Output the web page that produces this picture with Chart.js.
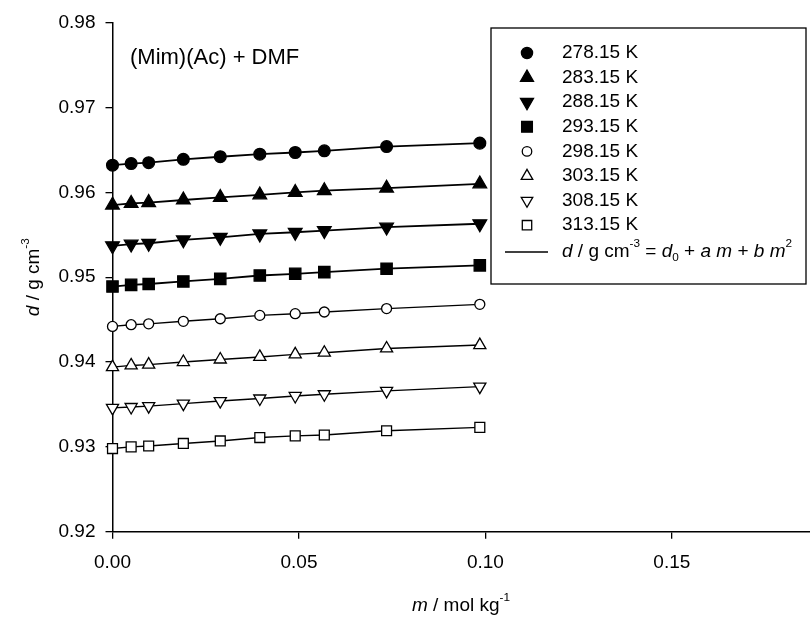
<!DOCTYPE html>
<html>
<head>
<meta charset="utf-8">
<script src="https://cdn.jsdelivr.net/npm/chart.js@4.4.0/dist/chart.umd.min.js"></script>
<style>
html, body { margin: 0; padding: 0; background: #fff; overflow: hidden; }
</style>
</head>
<body>
<canvas id="dens" width="821" height="619"></canvas>
<script>
// molality m / mol kg-1
var molality = [0, 0.0050, 0.0097, 0.0190, 0.0289, 0.0395, 0.0490, 0.0568, 0.0735, 0.0985];

var temps = ['278.15 K', '283.15 K', '288.15 K', '293.15 K', '298.15 K', '303.15 K', '308.15 K', '313.15 K'];

// density d / g cm-3
var d278 = [0.9632, 0.9634, 0.9635, 0.9639, 0.9642, 0.9645, 0.9647, 0.9649, 0.9654, 0.9658];
var d283 = [0.9585, 0.9587, 0.9588, 0.9591, 0.9594, 0.9597, 0.9600, 0.9602, 0.9605, 0.9610];
var d288 = [0.9537, 0.9539, 0.9540, 0.9544, 0.9547, 0.9551, 0.9553, 0.9555, 0.9559, 0.9563];
var d293 = [0.9489, 0.9491, 0.9492, 0.9495, 0.9498, 0.9502, 0.9504, 0.9506, 0.9510, 0.9514];
var d298 = [0.9442, 0.9444, 0.9445, 0.9448, 0.9451, 0.9455, 0.9457, 0.9459, 0.9463, 0.9468];
var d303 = [0.9394, 0.9396, 0.9397, 0.9400, 0.9403, 0.9406, 0.9409, 0.9411, 0.9416, 0.9420];
var d308 = [0.9346, 0.9347, 0.9348, 0.9351, 0.9354, 0.9357, 0.9360, 0.9362, 0.9366, 0.9371];
var d313 = [0.9298, 0.9300, 0.9301, 0.9304, 0.9307, 0.9311, 0.9313, 0.9314, 0.9319, 0.9323];

var xTicks = [0, 0.05, 0.10, 0.15];
var yTicks = [0.92, 0.93, 0.94, 0.95, 0.96, 0.97, 0.98];

var FONT = '"Liberation Sans", Arial, sans-serif';

function pts(vals) {
    return vals.map(function (v, i) { return { x: molality[i], y: v }; });
}

function series(label, vals, style, rot, filled, r) {
    return {
        label: label,
        data: pts(vals),
        showLine: true,
        borderColor: '#000',
        borderWidth: filled ? 1.8 : 1.4,
        pointStyle: style,
        rotation: rot,
        pointRadius: r,
        pointHoverRadius: r,
        pointBackgroundColor: filled ? '#000' : '#fff',
        pointBorderColor: '#000',
        pointBorderWidth: 1.3,
        clip: false
    };
}

// draws text made of pieces: {t, it, sup, sub}
function richText(ctx, parts, x, y, size, align) {
    var total = 0;
    parts.forEach(function (p) {
        var s = (p.sup || p.sub) ? size * 0.62 : size;
        ctx.font = (p.it ? 'italic ' : '') + s + 'px ' + FONT;
        p.w = ctx.measureText(p.t).width;
        total += p.w;
    });
    var cx = align === 'center' ? x - total / 2 : x;
    ctx.textBaseline = 'middle';
    ctx.textAlign = 'left';
    parts.forEach(function (p) {
        var s = (p.sup || p.sub) ? size * 0.62 : size;
        ctx.font = (p.it ? 'italic ' : '') + s + 'px ' + FONT;
        var dy = p.sup ? -size * 0.42 : (p.sub ? size * 0.3 : 0);
        ctx.fillText(p.t, cx, y + dy);
        cx += p.w;
    });
}

var extras = {
    id: 'extras',
    afterDraw: function (chart) {
        var ctx = chart.ctx;
        var area = chart.chartArea;
        ctx.save();
        ctx.fillStyle = '#000';

        // label inside the plot
        ctx.font = '22px ' + FONT;
        ctx.textBaseline = 'middle';
        ctx.textAlign = 'left';
        ctx.fillText('(Mim)(Ac) + DMF', 130, 58);

        // x axis title
        richText(ctx, [{ t: 'm', it: true }, { t: ' / mol kg' }, { t: '-1', sup: true }],
            461, 606, 19, 'center');

        // y axis title
        ctx.save();
        ctx.translate(34, (area.top + area.bottom) / 2);
        ctx.rotate(-Math.PI / 2);
        richText(ctx, [{ t: 'd', it: true }, { t: ' / g cm' }, { t: '-3', sup: true }], 0, 0, 19, 'center');
        ctx.restore();

        // legend box
        ctx.fillStyle = '#fff';
        ctx.fillRect(491, 28, 315, 256);
        ctx.strokeStyle = '#000';
        ctx.lineWidth = 1.3;
        ctx.strokeRect(491, 28, 315, 256);
        ctx.fillStyle = '#000';

        chart.data.datasets.forEach(function (ds, i) {
            var y = 53 + i * 24.6;
            ctx.lineWidth = ds.pointBorderWidth;
            ctx.strokeStyle = '#000';
            ctx.fillStyle = ds.pointBackgroundColor;
            Chart.helpers.drawPoint(ctx, {
                pointStyle: ds.pointStyle,
                rotation: ds.rotation,
                radius: ds.pointRadius * 0.95,
                borderWidth: ds.pointBorderWidth
            }, 527, y);
            ctx.fillStyle = '#000';
            ctx.font = '19px ' + FONT;
            ctx.textBaseline = 'middle';
            ctx.textAlign = 'left';
            ctx.fillText(ds.label, 562, y);
        });

        ctx.beginPath();
        ctx.lineWidth = 1.3;
        ctx.moveTo(505, 252);
        ctx.lineTo(548, 252);
        ctx.stroke();
        richText(ctx, [
            { t: 'd', it: true }, { t: ' / g cm' }, { t: '-3', sup: true }, { t: ' = ' },
            { t: 'd', it: true }, { t: '0', sub: true }, { t: ' + ' },
            { t: 'a', it: true }, { t: ' ' }, { t: 'm', it: true }, { t: ' + ' },
            { t: 'b', it: true }, { t: ' ' }, { t: 'm', it: true }, { t: '2', sup: true }
        ], 562, 252, 19, 'left');

        ctx.restore();
    }
};

var ctx = document.getElementById('dens').getContext('2d');
var chart = new Chart(ctx, {
    type: 'scatter',
    data: {
        datasets: [
            series(temps[0], d278, 'circle', 0, true, 5.9),
            series(temps[1], d283, 'triangle', 0, true, 7.9),
            series(temps[2], d288, 'triangle', 180, true, 7.9),
            series(temps[3], d293, 'rect', 0, true, 8),
            series(temps[4], d298, 'circle', 0, false, 5),
            series(temps[5], d303, 'triangle', 0, false, 7),
            series(temps[6], d308, 'triangle', 180, false, 7),
            series(temps[7], d313, 'rect', 0, false, 7)
        ]
    },
    options: {
        responsive: false,
        animation: false,
        devicePixelRatio: 1,
        layout: { padding: { top: 22.7, right: 0, left: 0, bottom: 0 } },
        plugins: {
            legend: { display: false },
            tooltip: { enabled: false }
        },
        scales: {
            x: {
                type: 'linear',
                min: 0,
                max: 0.1875,
                afterBuildTicks: function (s) { s.ticks = xTicks.map(function (v) { return { value: v }; }); },
                afterFit: function (s) { s.height = 619 - 531.7; },
                ticks: {
                    color: '#000',
                    font: { family: FONT, size: 19 },
                    padding: 13,
                    maxRotation: 0,
                    callback: function (v) { return v.toFixed(2); }
                },
                grid: { drawOnChartArea: false, drawTicks: true, tickLength: 7, color: '#000', lineWidth: 1.3 },
                border: { color: '#000', width: 1.5 }
            },
            y: {
                type: 'linear',
                min: 0.92,
                max: 0.98,
                afterBuildTicks: function (s) { s.ticks = yTicks.map(function (v) { return { value: v }; }); },
                afterFit: function (s) { s.width = 112.5; },
                ticks: {
                    color: '#000',
                    font: { family: FONT, size: 19 },
                    padding: 10,
                    callback: function (v) { return v.toFixed(2); }
                },
                grid: { drawOnChartArea: false, drawTicks: true, tickLength: 7, color: '#000', lineWidth: 1.3 },
                border: { color: '#000', width: 1.5 }
            }
        }
    },
    plugins: [extras]
});
</script>
</body>
</html>
